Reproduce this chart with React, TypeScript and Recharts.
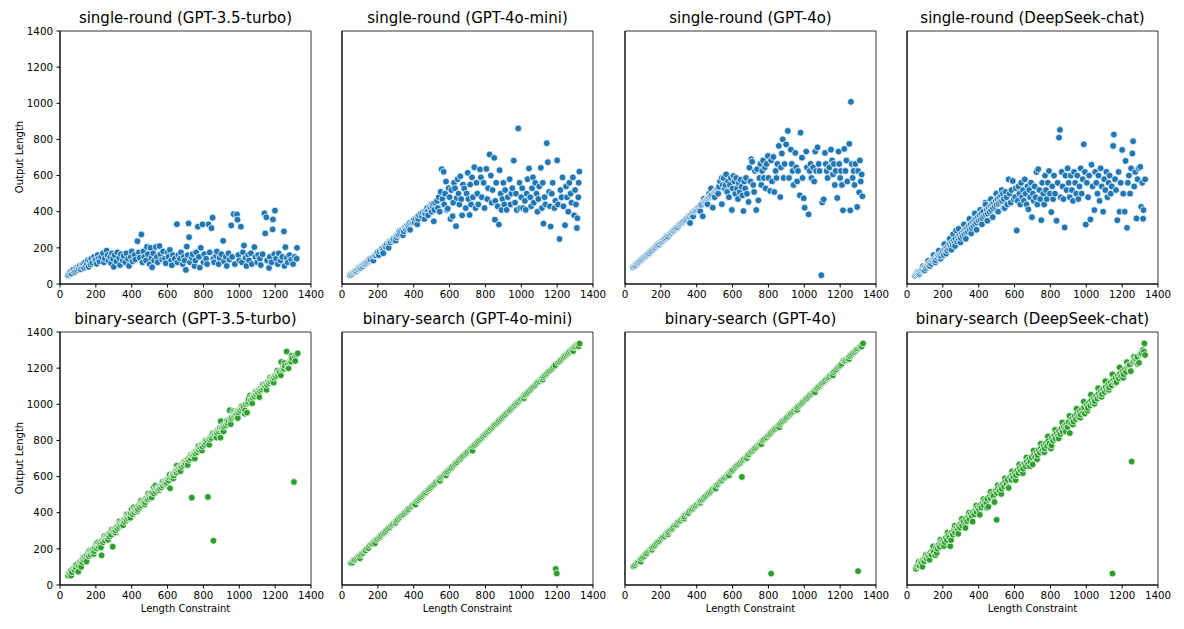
import React from 'react';
import { ScatterChart, Scatter, XAxis, YAxis, ReferenceArea } from 'recharts';

type Pt = [number, number];

const FONT = '"DejaVu Sans", sans-serif';
const BLUE = '#1f77b4';
const GREEN = '#2ca02c';

const xTicks = [0, 200, 400, 600, 800, 1000, 1200, 1400];
const yTicks = [0, 200, 400, 600, 800, 1000, 1200, 1400];

const titles = [
  'single-round (GPT-3.5-turbo)',
  'single-round (GPT-4o-mini)',
  'single-round (GPT-4o)',
  'single-round (DeepSeek-chat)',
  'binary-search (GPT-3.5-turbo)',
  'binary-search (GPT-4o-mini)',
  'binary-search (GPT-4o)',
  'binary-search (DeepSeek-chat)',
];

// y limits (matplotlib auto-limits)
const yDomains: [number, number][] = [
  [0, 1400], [0, 1400], [-46, 1400], [0, 1400],
  [0, 1400], [-66, 1424], [-43, 1418], [-45, 1414],
];

const singleGpt35: Pt[] = [
  [45,48],[50,55],[55,62],[60,70],[65,58],[70,75],[75,80],[80,65],[85,72],[90,88],[95,78],[100,92],[105,85],[110,100],[115,82],[120,95],[125,105],[130,110],[135,90],[140,120],[145,100],[150,112],[155,130],[160,95],[165,125],[170,108],[175,140],[180,118],[190,150],[195,128],[200,135],[205,112],[210,160],[215,140],[220,125],
  [230,150],[240,170],[245,120],[250,140],[260,185],[265,160],[270,130],[280,150],[285,115],[290,170],[295,140],[300,95],[305,160],[315,125],[320,175],[330,145],[335,105],[340,165],[350,130],[355,155],[365,120],[370,170],[380,140],[385,100],[395,150],[400,180],[405,125],[415,160],[420,135],[432,237],[440,175],[445,145],[454,274],[460,120],[465,180],[470,150],[480,130],[485,205],[490,165],[500,110],[505,200],[510,145],[514,93],[520,170],[525,130],[535,205],[540,150],[545,120],[555,210],[560,165],[570,135],[575,180],[585,140],[590,115],[600,175],[605,150],[613,189],[620,130],[624,104],[630,160],[640,140],
  [652,331],[655,120],[660,160],[670,140],[675,175],[685,110],[690,150],[695,130],[702,78],[707,207],[712,160],[717,335],[720,259],[725,120],[735,145],[740,165],[750,100],[755,130],[760,175],[769,317],[775,150],[780,91],[785,200],[795,330],[800,120],[805,165],[815,140],[820,110],[829,330],[835,175],[845,309],[851,367],[855,140],[860,120],[870,155],[875,180],[885,110],[890,145],[900,165],[910,239],[915,125],[925,150],[930,100],[940,170],[945,135],[955,324],[960,150],[968,387],[975,110],[987,385],[990,356],[995,160],[1000,130],[1009,317],[1015,120],[1020,175],[1026,213],[1035,145],[1040,100],[1050,160],[1055,130],[1065,170],[1070,110],[1084,204],[1090,150],[1100,120],[1105,160],[1115,140],[1120,105],[1130,165],[1140,391],[1145,280],[1151,369],[1155,130],[1166,89],[1170,150],[1180,120],[1186,302],[1188,357],[1195,165],[1199,406],[1205,140],[1215,110],[1220,170],[1230,130],[1240,150],[1249,291],[1252,100],[1257,204],[1265,145],[1270,120],[1280,160],[1290,135],[1300,110],[1310,150],[1322,200],[1320,140],
];

const singleGpt4oMini: Pt[] = [
  [45,48],[50,55],[55,52],[60,60],[65,62],[70,68],[75,70],[80,72],[85,80],[90,82],[95,88],[100,92],[105,90],[110,100],[115,98],[120,108],[125,110],[130,112],[135,120],[140,118],[145,125],[150,130],[155,138],[160,135],[170,145],[175,130],[180,155],[185,160],[190,158],[195,170],[200,175],[205,160],[210,182],[220,190],[225,195],[230,185],[240,210],[245,205],[250,220],[260,225],[265,235],[270,230],[280,240],[285,250],[290,245],[300,262],[305,258],[310,270],[315,275],[320,290],[325,280],[330,295],[340,300],[345,292],[350,310],[355,305],[360,320],[365,312],[370,320],[375,330],[380,340],[390,340],[395,345],[400,355],[405,340],[410,360],[420,370],[425,360],[430,380],[440,390],[445,375],[450,395],[460,400],[465,390],[470,410],[475,420],[480,405],[490,425],[495,415],[500,440],[505,430],[510,445],[512,347],[515,410],[520,450],
  [230,170],[260,200],[300,240],[340,270],[380,300],[420,330],[460,360],[480,380],[500,400],
  [530,460],[535,420],[540,480],[545,400],[550,510],[556,635],[560,470],[567,621],[570,440],[575,500],[580,567],[585,410],[590,417],[595,530],[600,480],[605,360],[610,520],[617,375],[620,450],[625,560],[630,530],[636,320],[640,476],[645,580],[650,500],[655,440],[660,596],[665,470],[670,380],[675,550],[682,528],[690,420],[695,500],[701,615],[705,470],[712,382],[715,550],[720,440],[725,590],[730,480],[738,646],[745,420],[750,560],[755,500],[760,440],[770,634],[775,590],[780,480],[790,560],[795,420],[805,637],[810,470],[815,530],[823,717],[830,600],[835,450],[840,520],[849,698],[853,356],[855,460],[860,560],[868,430],[875,329],[879,630],[885,500],[890,410],[895,470],[900,560],[905,440],[910,520],[918,410],[925,480],[935,580],[940,440],[945,500],[950,530],[958,683],[965,450],[970,500],[975,410],[983,861],[990,560],[995,420],[1000,480],[1005,530],[1010,420],[1020,460],[1025,410],[1030,500],[1035,580],[1043,639],[1050,480],[1055,430],[1060,530],[1065,590],[1070,450],[1078,560],[1085,500],[1090,400],[1095,470],[1100,540],[1109,643],[1115,420],[1120,560],[1124,334],[1130,480],[1135,440],[1142,779],[1148,674],[1155,510],[1160,430],[1164,318],[1170,500],[1175,560],[1185,420],[1190,460],[1200,684],[1205,440],[1213,249],[1218,520],[1225,480],[1230,590],[1235,430],[1244,325],[1250,540],[1255,480],[1262,400],[1268,560],[1275,500],[1280,450],[1288,590],[1295,380],[1300,520],[1305,440],[1310,310],[1313,364],[1318,480],[1324,622],[1320,560],
];

const singleGpt4o: Pt[] = [
  [45,50],[50,55],[55,58],[60,62],[65,70],[70,72],[75,78],[80,82],[85,88],[90,90],[95,96],[100,100],[105,105],[110,110],[115,112],[120,118],[125,122],[130,128],[135,130],[140,138],[145,140],[150,148],[155,150],[160,158],[165,160],[170,165],[175,172],[180,175],[185,182],[190,180],[195,190],[200,192],[205,198],[210,200],[215,208],[220,210],[225,215],[230,220],[235,228],[240,225],[245,235],[250,240],[255,245],[260,248],[265,255],[270,258],[275,262],[280,268],[285,272],[290,278],[295,280],[300,290],[305,292],[310,298],[315,300],[320,305],[325,310],[330,316],[335,318],[340,325],[345,330],[350,335],[355,340],[360,342],[363,303],[365,350],[370,352],[375,360],[380,362],[385,368],[390,372],[395,378],[400,380],[405,388],[410,392],[415,395],[420,402],[425,405],[430,412],[434,341],[440,420],[445,425],[450,430],[455,435],[460,440],[465,445],[470,450],[475,455],[480,460],[485,465],[490,390],[495,470],[500,480],[505,485],[510,490],[515,495],[520,500],
  [380,340],[420,370],[440,440],[460,410],[470,470],[480,500],[500,450],[520,470],[540,560],[560,520],
  [525,510],[530,540],[540,410],[545,520],[550,560],[556,500],[564,581],[570,480],[575,540],[580,450],[585,520],[590,560],[596,377],[600,500],[605,571],[610,540],[615,470],[620,560],[625,500],[630,440],[635,530],[640,480],[645,550],[650,510],[655,460],[661,371],[665,540],[670,500],[675,560],[680,470],[689,423],[694,619],[700,540],[704,667],[709,653],[715,520],[720,480],[725,600],[732,377],[737,610],[744,432],[750,560],[755,640],[760,520],[765,600],[770,660],[775,560],[780,620],[785,500],[790,640],[797,686],[800,560],[810,486],[815,660],[820,540],[828,680],[833,480],[840,600],[845,560],[850,640],[858,743],[866,451],[870,620],[875,700],[880,781],[885,560],[890,640],[899,752],[908,829],[915,560],[925,722],[930,640],[935,600],[940,520],[950,703],[955,620],[960,540],[965,600],[975,461],[979,819],[987,676],[990,560],[997,444],[1002,390],[1011,711],[1015,620],[1024,352],[1030,600],[1035,640],[1040,560],[1050,620],[1055,540],[1061,711],[1066,600],[1074,735],[1080,640],[1085,600],[1095,4],[1100,420],[1108,438],[1115,703],[1120,640],[1125,600],[1130,560],[1140,620],[1149,722],[1155,660],[1160,580],[1165,640],[1170,520],[1175,600],[1184,446],[1191,711],[1195,640],[1200,560],[1205,600],[1210,520],[1216,375],[1223,726],[1230,600],[1235,660],[1240,540],[1251,755],[1256,375],[1260,995],[1265,640],[1270,560],[1275,600],[1280,520],[1285,640],[1295,394],[1300,600],[1306,478],[1310,660],[1315,540],[1320,580],[1324,455],
];

const singleDeepseek: Pt[] = [
  [45,45],[50,50],[55,52],[60,58],[65,62],[70,60],[75,70],[80,75],[85,80],[90,78],[95,90],[100,95],[105,88],[110,100],[115,110],[120,105],[125,115],[130,120],[135,112],[140,130],[145,125],[150,135],[155,140],[160,132],[165,150],[170,145],[175,160],[180,150],[185,165],[190,155],[195,172],[200,180],[205,160],[210,190],[215,175],[220,200],[225,185],[230,210],[235,195],[240,220],[245,205],[250,230],[255,215],[260,240],[265,225],[270,250],[274,296],[280,235],[285,260],[290,245],[295,270],[300,255],[305,280],[310,265],[315,290],[320,275],[325,300],[330,285],[335,310],[340,290],[345,320],[350,300],[355,330],[360,310],[365,340],[370,320],[375,350],[380,330],[385,360],[390,340],[395,370],[400,350],[405,380],[410,355],[415,390],[420,365],[425,400],[430,375],[436,450],[440,385],[445,410],[450,390],[455,420],[460,400],[465,430],[470,410],[475,440],[480,420],[485,450],[490,430],[495,460],[500,440],[505,470],[510,445],[515,480],[520,455],[525,490],[530,460],[535,500],[540,470],
  [58,66],[68,52],[88,98],[98,76],[118,128],[128,100],[148,160],[158,120],[178,185],[188,140],[208,220],[218,168],[238,250],[248,190],[258,275],[268,210],[288,305],[298,230],[318,330],[328,250],[348,360],[358,280],[378,390],[388,300],[408,410],[418,330],[438,440],[448,350],[468,470],[478,370],[498,500],[508,400],[528,520],[538,420],
  [545,420],[550,510],[555,480],[560,440],[567,579],[572,500],[578,450],[583,520],[590,570],[595,470],[603,481],[607,530],[612,296],[617,460],[622,540],[627,500],[632,440],[637,560],[642,480],[647,520],[652,460],[657,579],[662,500],[667,440],[672,540],[677,413],[682,520],[687,480],[692,560],[697,370],[702,500],[707,460],[712,540],[717,480],[722,620],[727,440],[732,635],[738,520],[743,470],[749,353],[754,560],[760,500],[765,440],[770,600],[775,520],[780,470],[786,560],[792,625],[797,500],[805,398],[810,540],[815,470],[820,600],[825,500],[834,350],[840,560],[848,810],[853,853],[858,480],[863,620],[868,540],[873,470],[879,313],[884,600],[890,520],[896,640],[902,560],[908,480],[914,600],[920,520],[926,460],[932,620],[938,560],[944,500],[950,600],[956,470],[962,540],[968,640],[974,500],[980,580],[986,773],[992,620],[997,329],[1003,560],[1010,480],[1016,600],[1023,357],[1029,660],[1035,540],[1045,409],[1050,620],[1056,560],[1062,500],[1068,600],[1074,460],[1080,640],[1086,540],[1094,400],[1100,580],[1106,520],[1112,620],[1118,480],[1124,560],[1130,600],[1136,500],[1142,540],[1150,764],[1154,827],[1160,580],[1166,520],[1173,353],[1180,620],[1186,400],[1192,560],[1200,742],[1206,500],[1214,400],[1219,681],[1227,311],[1232,560],[1238,600],[1244,500],[1250,640],[1257,722],[1261,790],[1267,540],[1273,620],[1280,363],[1286,580],[1292,640],[1301,648],[1306,427],[1312,560],[1317,361],[1319,409],[1328,579],
];

const binaryGpt35: Pt[] = [
  [45,52],[50,66],[55,60],[60,78],[66,70],[75,92],[80,84],[85,100],[90,94],[95,112],[102,74],[105,108],[110,126],[115,116],[120,134],[125,126],[130,144],[135,136],[140,156],[145,146],[150,164],[158,179],[160,160],[165,176],[170,168],[175,188],[180,178],[185,198],[190,188],[195,206],[203,227],[205,202],[210,220],[215,212],[220,230],[225,222],[232,164],[235,244],[240,236],[245,254],[250,246],[255,262],[260,269],[265,258],[270,278],[275,268],[280,288],[285,278],[294,212],[295,300],[300,292],[305,310],[310,302],[315,320],[320,312],[325,330],[330,322],[335,340],[340,330],[345,348],[350,340],[355,358],[360,350],[365,368],[370,360],[375,378],[380,368],[385,388],[390,378],[395,396],[400,417],[405,392],[410,410],[415,402],[420,420],[425,412],[430,430],[435,420],[440,440],[445,430],[450,450],[455,440],[460,458],[465,450],[470,468],[475,458],[480,478],[485,472],[490,474],[495,492],[500,482],[505,500],[510,492],[515,510],[523,539],[525,506],[530,526],[535,516],[540,534],[545,526],[550,544],
  [555,534],[560,548],[565,540],[570,556],[575,550],[580,566],[585,558],[590,574],[595,568],[600,584],[605,578],[610,594],[614,535],[620,596],[625,608],[630,612],[635,606],[640,622],[645,628],[650,624],[655,640],[660,636],[665,650],[670,644],[675,660],[680,654],[685,670],[690,664],[695,680],[700,672],[705,690],[710,684],[715,700],[720,692],[725,708],[730,700],[735,483],[740,718],[745,720],[750,732],[755,728],[760,742],[765,736],[770,750],[775,748],[780,762],[785,756],[790,775],[795,766],[800,782],[805,776],[810,792],[815,786],[820,800],[825,487],[830,808],[835,806],[840,818],[845,814],[850,828],[856,245],[860,836],[865,832],[870,846],[875,842],[880,856],[885,850],[890,862],[895,815],[897,906],[900,870],[905,868],[910,880],[915,876],[920,890],[925,884],[930,898],[935,894],[940,908],[947,967],[950,914],[955,920],[960,930],[966,961],[970,936],[975,940],[980,948],[985,950],[990,962],[995,956],[1000,970],[1005,966],[1010,978],[1015,976],[1020,990],[1025,982],[1030,948],[1035,1000],[1043,954],[1045,1006],[1050,1014],[1060,1048],[1065,1024],[1070,1040],[1075,1036],[1080,1050],[1085,1044],[1090,1060],[1095,1054],[1100,1070],[1105,1062],[1110,1080],[1115,1074],[1120,1088],[1125,1082],[1130,1098],[1135,1090],[1140,1106],[1145,1100],[1150,1116],[1155,1108],[1160,1124],[1165,1118],[1170,1132],[1175,1126],[1180,1142],[1185,1136],[1190,1150],[1195,1146],[1200,1160],[1205,1154],[1210,1170],[1215,1162],[1220,1178],[1225,1174],[1234,1234],[1240,1192],[1245,1200],[1250,1196],[1255,1212],[1264,1292],[1270,1220],[1275,1199],[1280,1232],[1285,1240],[1290,1236],[1295,1254],[1305,570],[1310,1262],[1318,1276],[1326,1282],
  [62,52],[88,110],[118,100],[128,150],[148,130],[168,192],[188,172],[212,236],[228,208],[248,270],[268,250],[288,306],[308,290],[332,352],[352,330],[372,390],[392,372],[412,430],[432,410],[452,466],[472,446],[492,504],[512,484],[532,550],[552,524],[572,570],[592,560],[612,610],[632,590],[652,660],[672,630],[692,682],[712,664],[732,720],[752,700],[772,768],[792,744],[812,800],[832,776],[852,840],[872,816],[892,870],[912,850],[932,910],[952,890],[972,952],[992,924],[1012,990],[1032,966],[1052,1030],[1072,1006],[1092,1070],[1112,1040],[1132,1110],[1152,1080],[1172,1148],[1192,1120],[1212,1186],[1232,1160],[1252,1228],[1272,1200],[1292,1268],[1312,1240],
];

const binaryGpt4oMini: Pt[] = [
  [50,62],[58,66],[65,80],[72,82],[80,90],[88,98],[95,104],[102,110],[110,118],[118,122],[125,134],[132,138],[140,150],[148,152],[155,166],[163,175],[170,178],[178,188],[185,195],[192,200],[200,206],[208,214],[215,222],[222,230],[230,238],[238,244],[245,252],[252,260],[260,268],[268,274],[275,284],[282,290],[290,298],[298,304],[305,312],[312,320],[320,330],[328,336],[335,344],[342,350],[350,358],[358,366],[365,374],[372,380],[380,390],[388,396],[395,404],[402,410],[410,420],[418,428],[425,434],[432,442],[440,450],[448,458],[455,466],[462,474],[470,480],[478,490],[485,496],[492,504],[500,512],[508,520],[515,528],[522,536],[530,544],[538,550],[545,560],[552,566],[560,574],[568,580],[575,590],[582,598],[590,604],[598,612],[605,620],[612,628],[620,636],[628,644],[635,652],[642,658],[650,668],[658,676],[665,682],[672,690],[680,698],[688,706],[695,712],[702,720],[710,728],[718,736],[725,744],[732,752],[740,758],[748,766],[755,776],[762,782],[770,790],[778,798],[785,806],[792,814],[800,822],[808,830],[815,838],[822,846],[830,854],[838,860],[845,870],[852,878],[860,884],[868,892],[875,900],[882,908],[890,916],[898,924],[905,932],[912,940],[920,948],[928,956],[935,962],[942,970],[950,980],[958,988],[965,994],[972,1002],[980,1010],[988,1018],[995,1026],[1002,1032],[1010,1040],[1018,1050],[1025,1056],[1032,1064],[1040,1072],[1048,1080],[1055,1088],[1062,1096],[1070,1104],[1078,1110],[1085,1120],[1092,1128],[1100,1134],[1108,1142],[1115,1150],[1122,1158],[1130,1166],[1138,1174],[1145,1182],[1152,1190],[1160,1196],[1168,1204],[1175,1212],[1182,1220],[1190,1228],[1192,29],[1198,2],[1205,1244],[1212,1250],[1220,1258],[1228,1266],[1235,1274],[1242,1282],[1250,1290],[1258,1296],[1265,1304],[1272,1312],[1280,1320],[1288,1326],[1295,1334],[1302,1340],[1310,1348],[1318,1352],[1325,1356],
  [100,92],[185,180],[300,300],[410,408],[547,548],[580,580],[728,725],[1015,1034],[1120,1144],[1290,1312],[1320,1340],
];

const binaryGpt4o: Pt[] = [
  [47,65],[55,70],[62,80],[70,88],[78,92],[85,104],[92,110],[100,118],[108,124],[115,136],[122,140],[130,152],[138,158],[145,164],[152,174],[160,180],[168,186],[175,196],[182,204],[190,210],[198,218],[205,228],[212,234],[220,238],[228,250],[235,256],[242,262],[250,272],[258,278],[265,284],[272,294],[280,302],[288,306],[295,318],[302,324],[310,330],[318,340],[325,346],[332,352],[340,364],[348,370],[355,374],[362,386],[370,392],[378,398],[385,408],[392,414],[400,420],[408,428],[415,436],[422,444],[430,450],[438,458],[445,466],[452,472],[460,482],[468,488],[475,494],[482,504],[490,512],[498,518],[505,526],[512,534],[520,540],[528,550],[535,556],[542,562],[550,572],[558,578],[565,586],[572,594],[580,600],[588,610],[595,616],[602,622],[610,632],[618,640],[625,646],[632,654],[640,660],[648,668],[652,581],[655,676],[662,684],[670,690],[678,700],[685,706],[692,712],[700,722],[708,728],[715,736],[722,744],[730,750],[738,760],[745,766],[752,772],[760,782],[768,790],[775,796],[782,804],[790,810],[798,820],[805,826],[812,834],[815,23],[820,842],[828,850],[835,856],[842,864],[850,872],[858,880],[865,886],[872,894],[880,902],[888,910],[895,916],[902,924],[910,932],[918,940],[925,946],[932,954],[940,962],[948,970],[955,976],[962,984],[970,992],[978,1000],[985,1006],[992,1014],[1000,1022],[1008,1030],[1015,1036],[1022,1044],[1030,1052],[1038,1060],[1045,1066],[1052,1074],[1060,1082],[1068,1090],[1075,1096],[1082,1104],[1090,1112],[1098,1120],[1105,1126],[1112,1134],[1120,1142],[1128,1150],[1135,1156],[1142,1164],[1150,1172],[1158,1180],[1165,1186],[1172,1194],[1180,1202],[1188,1212],[1195,1220],[1202,1226],[1210,1234],[1218,1252],[1225,1250],[1232,1256],[1240,1264],[1248,1272],[1255,1278],[1262,1286],[1270,1294],[1278,1302],[1285,1308],[1292,1316],[1300,37],[1300,1322],[1308,1330],[1315,1338],[1320,1334],[1328,1352],
  [88,92],[150,160],[240,250],[330,340],[420,432],[505,514],[580,590],[680,690],[760,770],[860,868],[960,968],[1060,1070],[1160,1168],[1250,1262],
];

const binaryDeepseek: Pt[] = [
  [50,48],[56,62],[62,70],[70,66],[76,86],[82,80],[90,100],[96,92],[102,112],[110,106],[116,126],[122,118],[130,140],[136,130],[142,152],[150,146],[158,127],[162,172],[170,164],[176,186],[182,176],[190,200],[196,188],[202,212],[210,202],[216,226],[222,214],[230,240],[236,228],[241,179],[248,256],[255,246],[262,270],[268,258],[275,284],[282,272],[288,296],[295,286],[302,310],[308,298],[315,322],[324,300],[328,336],[335,324],[342,350],[348,336],[355,362],[362,350],[368,374],[375,362],[382,388],[388,376],[395,400],[402,390],[408,414],[415,402],[422,428],[428,414],[435,440],[442,428],[448,452],[454,406],[462,466],[468,452],[475,478],[482,468],[488,433],[495,498],[500,331],[502,486],[508,510],[515,498],[522,524],[528,510],[535,536],[542,524],[548,550],[555,536],[562,562],[567,515],[575,576],[582,562],[588,588],[595,576],[602,602],[608,588],[615,614],[622,600],[628,628],[635,614],[642,642],[648,626],[655,654],[662,640],[668,666],[675,652],[682,680],[688,664],[695,692],[701,650],[708,704],[715,692],[722,718],[728,704],[735,732],[742,718],[748,744],[755,730],[762,758],[768,742],[775,770],[782,756],[788,784],[795,770],[803,742],[808,802],[815,788],[822,816],[828,800],[835,830],[842,814],[848,842],[855,826],[862,856],[868,840],[875,868],[882,854],[888,880],[895,866],[902,894],[908,831],[915,886],[922,914],[928,898],[935,928],[942,912],[948,940],[955,924],[962,954],[968,938],[975,966],[982,950],[988,978],[992,944],[1002,992],[1008,976],[1015,1004],[1022,990],[1028,1018],[1035,1002],[1042,1032],[1048,1016],[1055,1044],[1062,1030],[1068,1056],[1075,1042],[1082,1072],[1088,1056],[1095,1084],[1102,1068],[1108,1096],[1115,1080],[1122,1110],[1128,1094],[1135,1124],[1142,1106],[1146,21],[1150,1136],[1156,1120],[1162,1148],[1168,1125],[1175,1160],[1182,1146],[1188,1172],[1195,1158],[1202,1186],[1208,1170],[1215,1198],[1222,1184],[1228,1210],[1235,1218],[1242,1224],[1248,1188],[1253,667],[1258,1240],[1265,1248],[1272,1256],[1278,1262],[1285,1270],[1294,1236],[1300,1284],[1308,1292],[1316,1310],[1322,1300],[1324,1348],[1328,1281],
  [66,90],[86,60],[106,130],[126,100],[146,178],[166,140],[186,216],[206,180],[226,256],[246,214],[266,296],[286,250],[306,336],[326,284],[346,372],[366,320],[386,412],[406,360],[426,450],[446,400],[466,492],[486,440],[506,530],[526,480],[546,570],[566,520],[586,610],[606,560],[626,650],[646,600],[666,690],[686,640],[706,730],[726,680],[746,770],[766,720],[786,812],[806,760],[826,850],[846,800],[866,892],[886,840],[906,930],[926,880],[946,972],[966,920],[986,1012],[1006,960],[1026,1052],[1046,1000],[1066,1090],[1086,1040],[1106,1130],[1126,1080],[1146,1170],[1166,1120],[1186,1210],[1206,1150],[1226,1240],[1246,1190],[1266,1270],[1286,1230],[1306,1290],
];

const seriesData: Pt[][] = [
  singleGpt35, singleGpt4oMini, singleGpt4o, singleDeepseek,
  binaryGpt35, binaryGpt4oMini, binaryGpt4o, binaryDeepseek,
];

// layout of the 2x4 grid (plot-area pixel positions)
const COL_LEFT = [60, 342, 625, 907];
const ROW_TOP = [30.7, 331.7];
const PW = 251;
const PH = 253;
const AXW = 45;
const PAD = 5;
const PADR = 20;
const AXH = 25;

const dot = (fill: string) => (props: any) => (
  <circle cx={props.cx} cy={props.cy} r={3.4} fill={fill} stroke="#fff" strokeWidth={0.75} />
);

const tickStyle = { fill: '#000', fontSize: 10.3, fontFamily: FONT };

function Panel({ idx }: { idx: number }) {
  const row = Math.floor(idx / 4);
  const col = idx % 4;
  const dom = yDomains[idx];
  // draw in order of length constraint so overlapping markers blend evenly
  const data = [...seriesData[idx]].sort((a, b) => a[0] - b[0]).map(([x, y]) => ({ x, y }));
  const color = row === 0 ? BLUE : GREEN;
  const yt = yTicks.filter((t) => t >= dom[0] && t <= dom[1]);
  const left = COL_LEFT[col];
  const top = ROW_TOP[row];

  return (
    <>
      <div
        style={{
          position: 'absolute', left, top: top - 20.1, width: PW, textAlign: 'center',
          fontFamily: FONT, fontSize: 15, lineHeight: '15px', color: '#000', whiteSpace: 'nowrap',
        }}
      >
        {titles[idx]}
      </div>
      <div style={{ position: 'absolute', left: left - AXW, top: top - PAD }}>
        <ScatterChart
          width={AXW + PW + PADR}
          height={PAD + PH + AXH}
          margin={{ top: PAD, right: PADR, bottom: 0, left: 0 }}
        >
          <XAxis
            type="number" dataKey="x" domain={[0, 1400]} ticks={xTicks} interval={0}
            allowDataOverflow height={AXH} tickSize={3.5} tickMargin={3.5}
            stroke="#000" tick={tickStyle}
          />
          <YAxis
            type="number" dataKey="y" domain={dom} ticks={yt} interval={0}
            allowDataOverflow width={AXW} tickSize={3.5} tickMargin={3.5}
            stroke="#000" tick={col === 0 ? tickStyle : false}
          />
          <ReferenceArea
            x1={0} x2={1400} y1={dom[0]} y2={dom[1]}
            fill="none" stroke="#000" strokeWidth={0.8} ifOverflow="visible"
          />
          <Scatter data={data} isAnimationActive={false} shape={dot(color)} />
        </ScatterChart>
      </div>
      {row === 1 && (
        <div
          style={{
            position: 'absolute', left, top: 604, width: PW, textAlign: 'center',
            fontFamily: FONT, fontSize: 10, lineHeight: '10px', color: '#000',
          }}
        >
          Length Constraint
        </div>
      )}
      {col === 0 && (
        <div
          style={{
            position: 'absolute', left: 19.5 - 60, top: top + PH / 2 - 5, width: 120, height: 10,
            textAlign: 'center', fontFamily: FONT, fontSize: 10, lineHeight: '10px', color: '#000',
            transform: 'rotate(-90deg)', transformOrigin: '60px 5px', whiteSpace: 'nowrap',
          }}
        >
          Output Length
        </div>
      )}
    </>
  );
}

export default function App() {
  return (
    <div style={{ position: 'absolute', left: 0, top: 0, width: 1184, height: 629, background: '#fff' }}>
      {titles.map((_, i) => (
        <Panel key={i} idx={i} />
      ))}
    </div>
  );
}
